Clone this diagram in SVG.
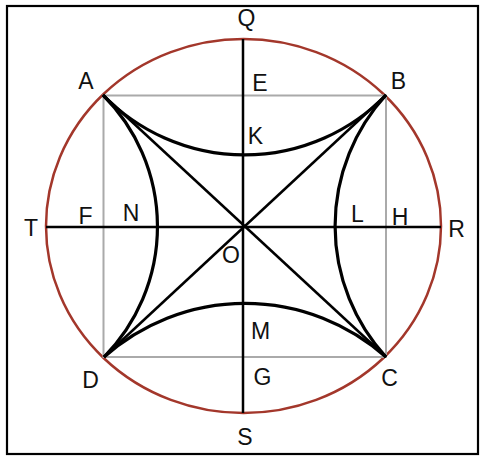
<svg xmlns="http://www.w3.org/2000/svg" width="480" height="458" viewBox="0 0 480 458">
<style>
text{font-family:"Liberation Sans",Arial,sans-serif;font-size:23px;fill:#111;text-anchor:middle}
.gray{fill:none;stroke:#aaaaaa;stroke-width:2}
.ln{fill:none;stroke:#000;stroke-width:2.5}
.cv{fill:none;stroke:#000;stroke-width:3.2}
</style>
<rect width="480" height="458" fill="#fff"/>
<rect x="7" y="6" width="471" height="448" fill="none" stroke="#000" stroke-width="2.2"/>
<g id="circle"><ellipse cx="243.5" cy="226" rx="197.5" ry="187" fill="none" stroke="#a3372b" stroke-width="2.5"/></g>
<g id="square"><rect class="gray" x="103.5" y="95.5" width="282.5" height="261.5"/></g>
<g id="connectors">
<line class="ln" x1="243" y1="39" x2="243" y2="413"/>
<line class="ln" x1="46" y1="227" x2="441" y2="227"/>
<line class="ln" x1="103" y1="95" x2="386" y2="357"/>
<line class="ln" x1="386" y1="95" x2="104" y2="357"/>
<path class="cv" d="M103,95 A197,197 0 0 0 386,95"/>
<path class="cv" d="M104,357 A212,212 0 0 1 386,357"/>
<path class="cv" d="M103,95 A186,186 0 0 1 104,357"/>
<path class="cv" d="M386,95 A194,194 0 0 0 386,357"/>
</g>
<g id="labels">
<text x="246.5" y="26">Q</text>
<text x="86" y="89">A</text>
<text x="260" y="91">E</text>
<text x="398.5" y="89">B</text>
<text x="255.5" y="144">K</text>
<text x="31" y="236">T</text>
<text x="85.5" y="224">F</text>
<text x="131" y="221">N</text>
<text x="357.5" y="222">L</text>
<text x="400" y="225">H</text>
<text x="456.5" y="237">R</text>
<text x="231" y="263">O</text>
<text x="260.5" y="339">M</text>
<text x="90.5" y="388">D</text>
<text x="262.5" y="385">G</text>
<text x="389.5" y="386">C</text>
<text x="245" y="445">S</text>
</g>
</svg>
